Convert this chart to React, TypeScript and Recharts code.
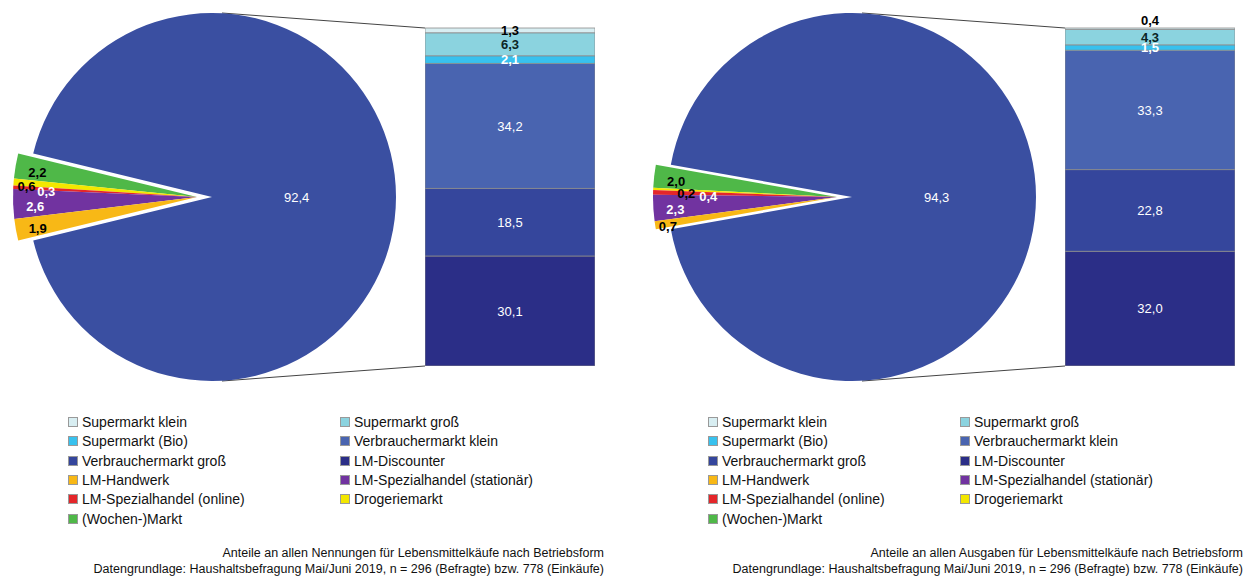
import { PieChart, Pie, Cell, BarChart, Bar, XAxis, YAxis, LabelList } from "recharts";

const barCategories = [
  "Supermarkt klein",
  "Supermarkt groß",
  "Supermarkt (Bio)",
  "Verbrauchermarkt klein",
  "Verbrauchermarkt groß",
  "LM-Discounter",
];
const wedgeCategories = [
  "(Wochen-)Markt",
  "Drogeriemarkt",
  "LM-Spezialhandel (online)",
  "LM-Spezialhandel (stationär)",
  "LM-Handwerk",
];
const legendOrder = [
  "Supermarkt klein",
  "Supermarkt groß",
  "Supermarkt (Bio)",
  "Verbrauchermarkt klein",
  "Verbrauchermarkt groß",
  "LM-Discounter",
  "LM-Handwerk",
  "LM-Spezialhandel (stationär)",
  "LM-Spezialhandel (online)",
  "Drogeriemarkt",
  "(Wochen-)Markt",
];

// Anteile an allen Nennungen
const nennungenMain = 92.4;
const nennungenBar = [1.3, 6.3, 2.1, 34.2, 18.5, 30.1];
const nennungenWedge = [2.2, 0.6, 0.3, 2.6, 1.9];

// Anteile an allen Ausgaben
const ausgabenMain = 94.3;
const ausgabenBar = [0.4, 4.3, 1.5, 33.3, 22.8, 32.0];
const ausgabenWedge = [2.0, 0.2, 0.4, 2.3, 0.7];

const colors: Record<string, string> = {
  "Supermarkt klein": "#d8eef2",
  "Supermarkt groß": "#8bd3df",
  "Supermarkt (Bio)": "#38c1ee",
  "Verbrauchermarkt klein": "#4964b0",
  "Verbrauchermarkt groß": "#35469c",
  "LM-Discounter": "#2b2e87",
  "LM-Handwerk": "#f8b816",
  "LM-Spezialhandel (stationär)": "#7133a0",
  "LM-Spezialhandel (online)": "#e4262a",
  Drogeriemarkt: "#f3e700",
  "(Wochen-)Markt": "#4fb848",
};
const labelColors: Record<string, string> = {
  "Supermarkt klein": "#000",
  "Supermarkt groß": "#0b2626",
  "Supermarkt (Bio)": "#fff",
  "(Wochen-)Markt": "#000",
  Drogeriemarkt: "#000",
  "LM-Spezialhandel (online)": "#fff",
  "LM-Spezialhandel (stationär)": "#fff",
  "LM-Handwerk": "#000",
};
const pieBlue = "#3a4fa1";
const FONT = '"Liberation Sans", Arial, sans-serif';

const fmt = (v: number) => v.toFixed(1).replace(".", ",");

const CX = 212;
const CY = 197;
const R = 184;
const EXPLODE = 15;
const BAR_X = 425;
const BAR_TOP = 28;
const BAR_W = 170;
const BAR_H = 338;
const BAR_PAD = 24; // room above the bar for the top label

function Panel({
  left,
  main,
  bar,
  wedge,
  legendX,
  footer,
}: {
  left: number;
  main: number;
  bar: number[];
  wedge: number[];
  legendX: [number, number];
  footer: string;
}) {
  const wedgeSum = wedge.reduce((a, b) => a + b, 0);
  const total = main + wedgeSum;
  const wedgeDeg = (wedgeSum / total) * 360;
  const start = -180 + wedgeDeg / 2;
  const end = 180 + wedgeDeg / 2;

  const mainData = [{ name: "Rest", v: main }, { name: "Wedge", v: wedgeSum }];
  const wedgeData = [{ name: "Rest", v: main }, ...wedgeCategories.map((c, i) => ({ name: c, v: wedge[i] }))];

  const barRow: Record<string, number | string> = { name: "bar" };
  barCategories.forEach((c, i) => (barRow[c] = bar[i]));
  const barTotal = bar.reduce((a, b) => a + b, 0);
  const stackOrder = [...barCategories].reverse();

  const RAD = Math.PI / 180;

  const mainLabel = (p: any) => {
    if (p.index !== 0) return null;
    const rr = p.outerRadius * 0.46;
    const x = p.cx + rr * Math.cos(-p.midAngle * RAD);
    const y = p.cy + rr * Math.sin(-p.midAngle * RAD);
    return (
      <text x={x} y={y} fill="#fff" fontSize={13} fontFamily={FONT} textAnchor="middle" dominantBaseline="central">
        {fmt(p.value)}
      </text>
    );
  };

  const wedgeLabel = (p: any) => {
    if (p.index === 0) return null;
    const i = p.index - 1;
    const v = wedge[i];
    const prevTiny = i > 0 && wedge[i - 1] < 0.5;
    const f = v < 0.5 ? (prevTiny ? 0.7 : 0.82) : v < 1 ? 0.93 : 0.88;
    const rr = p.outerRadius * f;
    const x = p.cx + rr * Math.cos(-p.midAngle * RAD);
    const y = p.cy + rr * Math.sin(-p.midAngle * RAD) + 3;
    return (
      <text
        x={x}
        y={y}
        fill={labelColors[wedgeCategories[i]]}
        fontSize={13}
        fontWeight="bold"
        fontFamily={FONT}
        textAnchor="middle"
        dominantBaseline="central"
      >
        {fmt(v)}
      </text>
    );
  };

  return (
    <div style={{ position: "absolute", left, top: 0, width: 612, height: 576 }}>
      <svg width={612} height={400} style={{ position: "absolute", left: 0, top: 0 }}>
        <line x1={CX + 10} y1={CY - R} x2={BAR_X} y2={BAR_TOP} stroke="#444" strokeWidth={1} />
        <line x1={CX + 10} y1={CY + R} x2={BAR_X} y2={BAR_TOP + BAR_H} stroke="#444" strokeWidth={1} />
      </svg>
      <div style={{ position: "absolute", left: 0, top: 0 }}>
        <PieChart width={420} height={400} margin={{ top: 0, right: 0, bottom: 0, left: 0 }}>
          <Pie
            data={mainData}
            dataKey="v"
            cx={CX}
            cy={CY}
            outerRadius={R}
            startAngle={start}
            endAngle={end}
            stroke="none"
            label={mainLabel}
            labelLine={false}
            isAnimationActive={false}
          >
            <Cell fill={pieBlue} />
            <Cell fill="none" />
          </Pie>
          <Pie
            data={wedgeData}
            dataKey="v"
            cx={CX - EXPLODE}
            cy={CY}
            outerRadius={R}
            startAngle={start}
            endAngle={end}
            stroke="none"
            label={wedgeLabel}
            labelLine={false}
            isAnimationActive={false}
          >
            <Cell fill="none" />
            {wedgeCategories.map((c) => (
              <Cell key={c} fill={colors[c]} />
            ))}
          </Pie>
        </PieChart>
      </div>
      <div style={{ position: "absolute", left: BAR_X, top: BAR_TOP - BAR_PAD }}>
        <BarChart
          width={BAR_W}
          height={BAR_H + BAR_PAD}
          data={[barRow]}
          margin={{ top: BAR_PAD, right: 0, bottom: 0, left: 0 }}
          barCategoryGap={0}
        >
          <XAxis dataKey="name" hide />
          <YAxis hide type="number" domain={[0, barTotal]} />
          {stackOrder.map((c) => {
            const idx = barCategories.indexOf(c);
            const v = bar[idx];
            const bold = idx < 3;
            return (
              <Bar
                key={c}
                dataKey={c}
                stackId="s"
                fill={colors[c]}
                stroke="#8a8a8a"
                strokeWidth={0.8}
                isAnimationActive={false}
              >
                <LabelList
                  dataKey={c}
                  position={v < 1 ? "top" : "center"}
                  offset={v < 1 ? 3 : 5}
                  formatter={(x: any) => fmt(Number(x))}
                  fill={labelColors[c] ?? "#fff"}
                  fontSize={13}
                  fontWeight={bold ? "bold" : "normal"}
                  fontFamily={FONT}
                />
              </Bar>
            );
          })}
        </BarChart>
      </div>
      {legendOrder.map((c, i) => {
        const col = i % 2;
        const row = Math.floor(i / 2);
        const y = 422 + row * 19.3;
        return (
          <div
            key={c}
            style={{
              position: "absolute",
              left: legendX[col],
              top: y - 9,
              height: 18,
              display: "flex",
              alignItems: "center",
              fontFamily: FONT,
              fontSize: 14,
              color: "#111",
              whiteSpace: "nowrap",
            }}
          >
            <span
              style={{
                display: "inline-block",
                width: 8,
                height: 8,
                background: colors[c],
                border: "1px solid #999",
                marginRight: 4,
              }}
            />
            {c}
          </div>
        );
      })}
      <div
        style={{
          position: "absolute",
          right: 612 - (left === 0 ? 604 : 603),
          top: 546,
          textAlign: "right",
          fontFamily: FONT,
          fontSize: 12.5,
          lineHeight: "15.5px",
          color: "#111",
          whiteSpace: "nowrap",
        }}
      >
        <div>{footer}</div>
        <div>Datengrundlage: Haushaltsbefragung Mai/Juni 2019, n = 296 (Befragte) bzw. 778 (Einkäufe)</div>
      </div>
    </div>
  );
}

export default function App() {
  return (
    <div style={{ position: "absolute", left: 0, top: 0, width: 1252, height: 576, background: "#fff", overflow: "hidden" }}>
      <Panel
        left={0}
        main={nennungenMain}
        bar={nennungenBar}
        wedge={nennungenWedge}
        legendX={[68, 340]}
        footer="Anteile an allen Nennungen für Lebensmittelkäufe nach Betriebsform"
      />
      <Panel
        left={640}
        main={ausgabenMain}
        bar={ausgabenBar}
        wedge={ausgabenWedge}
        legendX={[68, 320]}
        footer="Anteile an allen Ausgaben für Lebensmittelkäufe nach Betriebsform"
      />
    </div>
  );
}
